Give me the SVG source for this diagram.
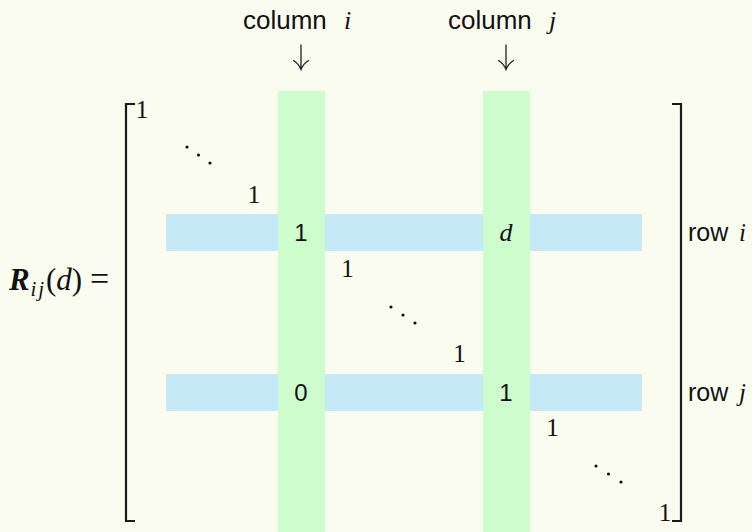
<svg xmlns="http://www.w3.org/2000/svg" width="752" height="532" viewBox="0 0 752 532">
  <style>
    .sans { font-family: "Liberation Sans", Arial, sans-serif; fill: #111; }
    .serif { font-family: "Liberation Serif", "Times New Roman", serif; fill: #111; }
    .it { font-style: italic; }
    .col { fill: #cdfccd; }
    .row { fill: #c6e9f8; }
    .bracket { fill: none; stroke: #1a1a1a; stroke-width: 2.2; }
    .arrow { fill: none; stroke: #222; stroke-width: 1.3; stroke-linecap: round; }
    .dot { fill: #111; }
    .entry { font-size: 25px; text-anchor: middle; }
  </style>
  <rect width="752" height="532" fill="#fafcf0"/>

  <!-- highlighted rows i and j -->
  <g id="rows">
    <rect class="row" x="166" y="214" width="476" height="37"/>
    <rect class="row" x="166" y="374" width="476" height="37"/>
  </g>
  <!-- highlighted columns i and j -->
  <g id="columns">
    <rect class="col" x="278" y="91" width="47" height="441"/>
    <rect class="col" x="483" y="91" width="47" height="441"/>
  </g>

  <!-- column labels with arrows -->
  <g id="label-col-i">
    <text class="sans" x="243" y="29" font-size="26">column</text>
    <text class="serif it" x="344" y="29" font-size="26">i</text>
  </g>
  <g id="label-col-j">
    <text class="sans" x="448" y="29" font-size="26">column</text>
    <text class="serif it" x="549" y="29" font-size="26">j</text>
  </g>
  <g id="connectors">
    <path class="arrow" d="M301,45 V69 M293.5,60.5 Q298.5,63.5 301,69.5 Q303.5,63.5 308.5,60.5"/>
    <path class="arrow" d="M506,45 V69 M498.5,60.5 Q503.5,63.5 506,69.5 Q508.5,63.5 513.5,60.5"/>
  </g>

  <!-- left-hand side -->
  <g id="lhs">
    <text class="serif" x="9" y="290" font-size="31" font-weight="bold" font-style="italic">R</text>
    <text class="serif it" x="30.5" y="296" font-size="21">i<tspan dx="2">j</tspan></text>
    <text class="serif" x="46" y="290" font-size="31">(<tspan class="it">d</tspan>)</text>
    <text class="serif" x="90" y="290" font-size="34">=</text>
  </g>

  <!-- matrix brackets -->
  <g id="brackets">
    <path class="bracket" d="M135,104 H126 V521 H135"/>
    <path class="bracket" d="M672,104 H681 V521 H672"/>
  </g>

  <!-- matrix entries -->
  <g id="entries">
    <text class="serif entry" x="142" y="118">1</text>
    <circle class="dot" cx="187" cy="147" r="1.6"/>
    <circle class="dot" cx="198.5" cy="155" r="1.6"/>
    <circle class="dot" cx="210" cy="163" r="1.6"/>
    <text class="serif entry" x="254" y="203">1</text>

    <text class="sans" x="301" y="241" font-size="24" text-anchor="middle">1</text>
    <text class="serif it" x="506" y="241" font-size="26" text-anchor="middle">d</text>

    <text class="serif entry" x="347.5" y="277">1</text>
    <circle class="dot" cx="391" cy="307" r="1.6"/>
    <circle class="dot" cx="403" cy="315" r="1.6"/>
    <circle class="dot" cx="415" cy="323" r="1.6"/>
    <text class="serif entry" x="459.5" y="362">1</text>

    <text class="sans" x="301" y="401" font-size="24" text-anchor="middle">0</text>
    <text class="sans" x="506" y="401" font-size="24" text-anchor="middle">1</text>

    <text class="serif entry" x="552.5" y="436">1</text>
    <circle class="dot" cx="596" cy="466" r="1.6"/>
    <circle class="dot" cx="608.5" cy="474" r="1.6"/>
    <circle class="dot" cx="621" cy="482" r="1.6"/>
    <text class="serif entry" x="665" y="521">1</text>
  </g>

  <!-- row labels -->
  <g id="label-row-i">
    <text class="sans" x="688" y="241" font-size="25">row</text>
    <text class="serif it" x="739" y="241" font-size="25">i</text>
  </g>
  <g id="label-row-j">
    <text class="sans" x="688" y="401" font-size="25">row</text>
    <text class="serif it" x="739" y="401" font-size="25">j</text>
  </g>
</svg>
